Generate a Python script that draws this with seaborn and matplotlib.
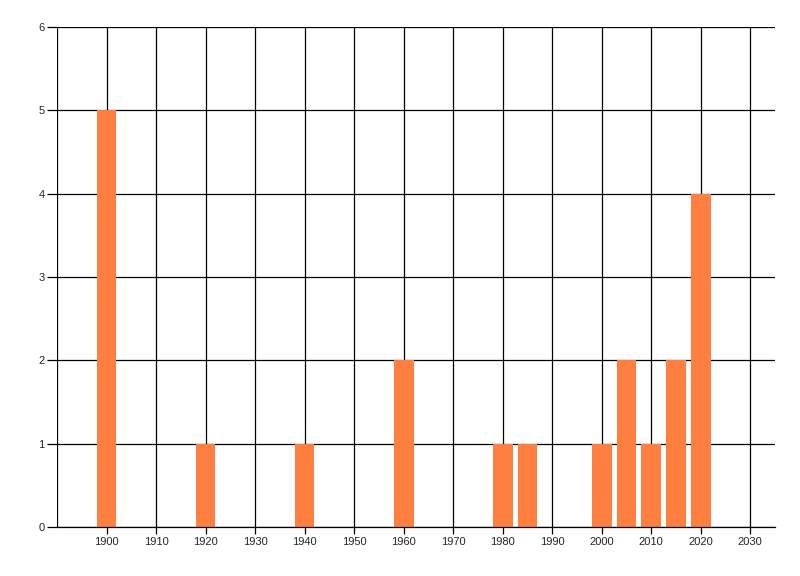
import matplotlib
matplotlib.use("Agg")
import matplotlib.pyplot as plt
import seaborn as sns

# bar data
years = [1900, 1920, 1940, 1960, 1980, 1985, 2000, 2005, 2010, 2015, 2020]
counts = [5, 1, 1, 2, 1, 1, 1, 2, 1, 2, 4]

x_ticks = list(range(1900, 2031, 10))
y_ticks = [0, 1, 2, 3, 4, 5, 6]

sns.set_style("white")
plt.rcParams['font.family'] = ['Liberation Sans', 'DejaVu Sans']

fig = plt.figure(figsize=(8, 5.76), dpi=100)
ax = fig.add_axes([57 / 800, 1 - 527 / 576, (775 - 57) / 800, (527 - 27) / 576])

sns.barplot(x=years, y=counts, native_scale=True, width=0.8,
            color="#FF7F40", saturation=1, errorbar=None, linewidth=0,
            ax=ax, zorder=3)

ax.set_xlim(1890, 2035)
ax.set_ylim(0, 6)
ax.set_xticks(x_ticks)
ax.set_yticks(y_ticks)

# black grid, one line per tick plus the left edge
for x in [1890] + x_ticks:
    ax.axvline(x, color="black", lw=0.9, zorder=1)
for y in y_ticks:
    ax.axhline(y, color="black", lw=0.9, zorder=1)

for side in ["top", "right", "left"]:
    ax.spines[side].set_visible(False)
ax.spines["bottom"].set_color("black")
ax.spines["bottom"].set_linewidth(0.9)
ax.spines["bottom"].set_zorder(4)

ax.tick_params(axis="x", length=5, width=0.9, color="black", labelsize=8, pad=2, bottom=True)
ax.tick_params(axis="y", length=7, width=0.9, color="black", labelsize=8, pad=2, left=True)
ax.set_xlabel("")
ax.set_ylabel("")

fig.savefig("out.png", dpi=100)
